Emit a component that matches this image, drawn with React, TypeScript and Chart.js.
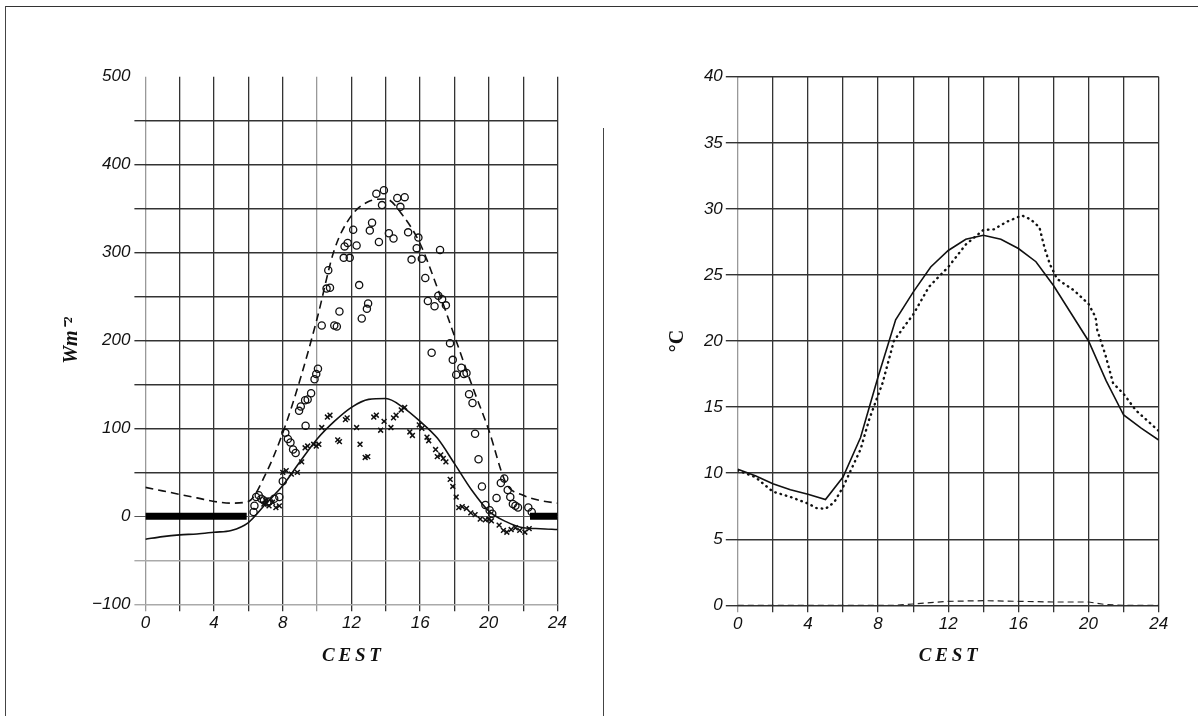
import React, { useEffect, useRef } from 'react';
import { Chart, registerables } from 'chart.js';

Chart.register(...registerables);

// ---------- Left panel: radiation (W m^-2) ----------
const hours = [0, 1, 2, 3, 4, 5, 6, 7, 8, 9, 10, 11, 12, 13, 14, 15, 16, 17, 18, 19, 20, 21, 22, 23, 24];
const modelGlobal = [33, 29, 25, 21, 17, 15, 17, 48, 95, 155, 225, 303, 342, 358, 361, 342, 310, 260, 205, 150, 98, 38, 24, 18, 15];
const modelNet = [-26, -23, -21, -20, -18, -16, -7, 14, 35, 62, 88, 108, 124, 133, 134, 124, 108, 89, 60, 30, 6, -6, -13, -14, -15];

const nightHours = [0, 5.9, 5.95, 22.4, 24];
const nightValues = [0, 0, null, 0, 0];

const circleHours = [6.3, 6.35, 6.45, 6.6, 6.75, 6.9, 7.1, 7.2, 7.5, 7.8, 8.0, 8.15, 8.3, 8.45, 8.6, 8.75, 8.95, 9.05, 9.3, 9.45, 9.33, 9.65, 9.85, 9.95, 10.05, 10.27, 10.55, 10.65, 10.75, 11.0, 11.15, 11.3, 11.55, 11.6, 11.78, 11.9, 12.1, 12.3, 12.45, 12.6, 12.9, 12.97, 13.07, 13.2, 13.45, 13.6, 13.78, 13.89, 14.18, 14.45, 14.67, 14.85, 15.1, 15.3, 15.5, 15.8, 15.9, 16.1, 16.3, 16.45, 16.67, 16.84, 17.06, 17.16, 17.28, 17.5, 17.74, 17.9, 18.1, 18.4, 18.55, 18.7, 18.85, 19.05, 19.2, 19.4, 19.6, 19.8, 20.05, 20.2, 20.45, 20.7, 20.9, 21.1, 21.25, 21.4, 21.55, 21.7, 22.3, 22.5];
const circleValues = [5, 12, 22, 24, 20, 18, 16, 17, 20, 22, 40, 95, 88, 84, 76, 72, 120, 125, 132, 133, 103, 140, 156, 162, 168, 217, 259, 280, 260, 217, 216, 233, 294, 307, 311, 294, 326, 308, 263, 225, 236, 242, 325, 334, 367, 312, 354, 371, 322, 316, 362, 352, 363, 323, 292, 305, 317, 293, 271, 245, 186, 239, 251, 303, 247, 240, 197, 178, 161, 169, 162, 163, 139, 129, 94, 65, 34, 13, 7, 3, 21, 38, 43, 30, 22, 14, 12, 10, 10, 5];

const crossHours = [6.9, 7.0, 7.2, 7.4, 7.6, 7.8, 8.0, 8.2, 8.5, 8.85, 9.1, 9.3, 9.45, 9.8, 9.95, 10.1, 10.27, 10.6, 10.75, 11.2, 11.3, 11.65, 11.75, 12.3, 12.5, 12.8, 12.95, 13.3, 13.45, 13.7, 13.9, 14.3, 14.45, 14.6, 14.9, 15.1, 15.4, 15.55, 15.95, 16.1, 16.4, 16.5, 16.9, 17.0, 17.2, 17.35, 17.5, 17.75, 17.9, 18.1, 18.25, 18.45, 18.7, 18.95, 19.2, 19.5, 19.8, 20.0, 20.15, 20.6, 20.85, 21.05, 21.3, 21.55, 21.8, 22.1, 22.35];
const crossValues = [14, 18, 12, 16, 10, 12, 50, 52, 48, 50, 62, 78, 80, 82, 80, 82, 101, 113, 115, 87, 85, 110, 112, 101, 82, 67, 68, 113, 115, 98, 108, 101, 112, 115, 121, 124, 96, 92, 104, 100, 90, 86, 76, 68, 70, 66, 62, 42, 34, 22, 10, 11, 9, 4, 2, -3, -4, -3, -5, -10, -16, -18, -15, -13, -16, -18, -14];

// ---------- Right panel: temperature (°C) ----------
const tempModel = [10.3, 9.8, 9.2, 8.75, 8.4, 8.0, 9.7, 12.7, 17.3, 21.6, 23.7, 25.6, 26.85, 27.7, 28.0, 27.7, 27.0, 26.0, 24.2, 22.1, 20.0, 17.0, 14.4, 13.4, 12.5];
const tempObsHours = [0, 1, 2, 3, 4, 4.5, 5, 5.5, 6, 7, 7.5, 8, 8.25, 8.9, 9.6, 10, 10.9, 12, 13, 14, 14.6, 15.3, 16.2, 16.7, 17.2, 17.5, 17.8, 18.2, 19.2, 20, 20.4, 20.5, 20.95, 21.4, 22, 22.7, 24];
const tempObsValues = [10.2, 9.7, 8.6, 8.2, 7.7, 7.35, 7.3, 7.8, 8.95, 11.8, 14.1, 15.9, 16.8, 20, 21.3, 22.0, 24.1, 25.6, 27.3, 28.4, 28.45, 29.0, 29.5, 29.2, 28.6, 27.0, 25.8, 24.7, 23.8, 22.8, 21.8, 20.8, 19.0, 16.8, 16.0, 14.75, 13.2];
const diffHours = [0, 9, 10, 11, 12, 14, 16, 18, 20, 21, 22, 24];
const diffValues = [0, 0, 0.1, 0.2, 0.3, 0.35, 0.3, 0.25, 0.25, 0.05, 0, 0];
const baseHours = [11, 24];
const baseValues = [-0.1, -0.1];

const xTickLabels = ['0', '4', '8', '12', '16', '20', '24'];

const zip = (xs: number[], ys: (number | null)[]) => xs.map((x, i) => ({ x, y: ys[i] }));

const tickFont = { family: 'Liberation Sans', size: 17, style: 'italic' as const };
const cestTitle = {
  display: true,
  text: 'C\u2009E\u2009S\u2009T',
  color: '#111',
  font: { family: 'Liberation Serif', size: 19, style: 'italic' as const, weight: 'bold' as const },
  padding: { top: 0, bottom: 0 },
};

function xScale(height: number, faint: number[]) {
  return {
    type: 'linear' as const,
    min: 0,
    max: 24,
    border: { display: false },
    grid: {
      color: (ctx: any) => (faint.includes(ctx.tick?.value) ? '#999' : '#333'),
      lineWidth: 1.3,
      tickLength: 7,
    },
    ticks: {
      stepSize: 2,
      autoSkip: false,
      maxRotation: 0,
      padding: 1.5,
      color: '#111',
      font: tickFont,
      callback: (v: any) => {
        const s = String(v);
        return xTickLabels.includes(s) ? s : '';
      },
    },
    title: cestTitle,
    afterFit: (s: any) => {
      s.height = height;
    },
  };
}

function leftConfig(): any {
  return {
    type: 'line',
    data: {
      datasets: [
        {
          data: zip(nightHours, nightValues),
          borderColor: '#000',
          borderWidth: 7,
          borderCapStyle: 'butt',
          pointRadius: 0,
          spanGaps: false,
        },
        {
          data: zip(hours, modelGlobal),
          borderColor: '#111',
          borderWidth: 1.6,
          borderDash: [8, 5],
          pointRadius: 0,
          cubicInterpolationMode: 'monotone',
        },
        {
          data: zip(hours, modelNet),
          borderColor: '#111',
          borderWidth: 1.6,
          pointRadius: 0,
          cubicInterpolationMode: 'monotone',
        },
        {
          data: zip(circleHours, circleValues),
          showLine: false,
          pointStyle: 'circle',
          pointRadius: 3.6,
          pointBorderWidth: 1.3,
          pointBorderColor: '#111',
          pointBackgroundColor: 'rgba(255,255,255,0)',
        },
        {
          data: zip(crossHours, crossValues),
          showLine: false,
          pointStyle: 'crossRot',
          pointRadius: 3.4,
          pointBorderWidth: 1.5,
          pointBorderColor: '#111',
        },
      ],
    },
    options: {
      animation: false,
      responsive: false,
      devicePixelRatio: 1,
      layout: { padding: { left: 50, right: 42.5, top: 76.7, bottom: 49 } },
      plugins: { legend: { display: false }, tooltip: { enabled: false } },
      scales: {
        x: xScale(62.7, [0, 10]),
        y: {
          min: -100,
          max: 500,
          border: { display: false },
          grid: {
            color: (ctx: any) => {
              const v = ctx.tick?.value;
              if (v === 500) return 'rgba(0,0,0,0)';
              if (v === -50 || v === -100) return '#aaa';
              if (v === 0) return '#555';
              return '#333';
            },
            lineWidth: (ctx: any) => (ctx.tick?.value === 0 ? 1 : 1.4),
            tickLength: 11,
          },
          ticks: {
            stepSize: 50,
            autoSkip: false,
            padding: 4,
            color: '#111',
            font: tickFont,
            callback: (v: any) => (v % 100 === 0 ? (v < 0 ? '\u2212' + Math.abs(v) : String(v)) : ''),
          },
          title: {
            display: true,
            text: 'Wm\u207B\u00B2',
            color: '#111',
            font: { family: 'Liberation Serif', size: 20, style: 'italic', weight: 'bold' },
            padding: { top: 9.6, bottom: 0 },
          },
          afterFit: (s: any) => {
            s.width = 95.4;
          },
        },
      },
    },
  };
}

function rightConfig(): any {
  return {
    type: 'line',
    data: {
      datasets: [
        {
          data: zip(baseHours, baseValues),
          borderColor: '#111',
          borderWidth: 1.5,
          pointRadius: 0,
        },
        {
          data: zip(diffHours, diffValues),
          borderColor: '#222',
          borderWidth: 1.2,
          borderDash: [6, 4],
          pointRadius: 0,
        },
        {
          data: zip(hours, tempModel),
          borderColor: '#111',
          borderWidth: 1.6,
          pointRadius: 0,
          tension: 0,
        },
        {
          data: zip(tempObsHours, tempObsValues),
          borderColor: '#111',
          borderWidth: 2.4,
          borderDash: [0.5, 5],
          borderCapStyle: 'round',
          pointRadius: 0,
          tension: 0,
        },
      ],
    },
    options: {
      animation: false,
      responsive: false,
      devicePixelRatio: 1,
      layout: { padding: { left: 55, right: 39.3, top: 76.7, bottom: 49 } },
      plugins: { legend: { display: false }, tooltip: { enabled: false } },
      scales: {
        x: xScale(61.7, [0]),
        y: {
          min: 0,
          max: 40,
          border: { display: false },
          grid: { color: '#333', lineWidth: 1.4, tickLength: 12 },
          ticks: {
            stepSize: 5,
            autoSkip: false,
            padding: 3,
            color: '#111',
            font: tickFont,
          },
          title: {
            display: true,
            text: '\u00B0C',
            color: '#111',
            font: { family: 'Liberation Serif', size: 20, weight: 'bold' },
            padding: { top: 10.6, bottom: 0 },
          },
          afterFit: (s: any) => {
            s.width = 82.8;
          },
        },
      },
    },
  };
}

export default function App() {
  const leftRef = useRef<HTMLCanvasElement>(null);
  const rightRef = useRef<HTMLCanvasElement>(null);

  useEffect(() => {
    const c1 = new Chart(leftRef.current as HTMLCanvasElement, leftConfig());
    const c2 = new Chart(rightRef.current as HTMLCanvasElement, rightConfig());
    return () => {
      c1.destroy();
      c2.destroy();
    };
  }, []);

  return (
    <div style={{ position: 'absolute', left: 0, top: 0, width: 1198, height: 716, background: '#fff', overflow: 'hidden' }}>
      <div style={{ position: 'absolute', left: 5, top: 6, width: 1193, height: 0, borderTop: '1.5px solid #333' }} />
      <div style={{ position: 'absolute', left: 5, top: 6, width: 0, height: 710, borderLeft: '1.5px solid #444' }} />
      <div style={{ position: 'absolute', left: 603, top: 128, width: 0, height: 588, borderLeft: '1.2px solid #444' }} />
      <canvas
        ref={leftRef}
        width={600}
        height={716}
        style={{ position: 'absolute', left: 0, top: 0, width: 600, height: 716 }}
      />
      <canvas
        ref={rightRef}
        width={598}
        height={716}
        style={{ position: 'absolute', left: 600, top: 0, width: 598, height: 716 }}
      />
    </div>
  );
}
